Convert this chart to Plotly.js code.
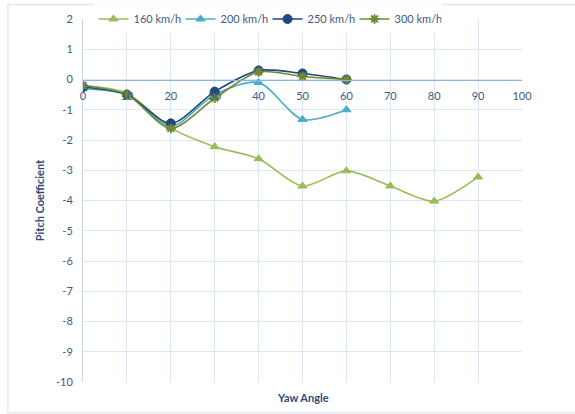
<!DOCTYPE html>
<html>
<head>
<meta charset="utf-8">
<script src="https://cdn.plot.ly/plotly-3.0.1.min.js"></script>
<style>html,body{margin:0;padding:0;background:#fff;}#chart{width:575px;height:414px;}</style>
</head>
<body>
<div id="chart"></div>
<script>
var yawAngle160 = [0, 10, 20, 30, 40, 50, 60, 70, 80, 90];
var pitch160 = [-0.2, -0.45, -1.6, -2.22, -2.62, -3.52, -3.02, -3.52, -4.02, -3.22];
var yawAngle = [0, 10, 20, 30, 40, 50, 60];
var pitch200 = [-0.3, -0.5, -1.55, -0.5, -0.1, -1.32, -1.0];
var pitch250 = [-0.25, -0.5, -1.45, -0.4, 0.3, 0.2, 0.0];
var pitch300 = [-0.2, -0.5, -1.62, -0.62, 0.25, 0.1, 0.0];
var seriesNames = ['160 km/h', '200 km/h', '250 km/h', '300 km/h'];
var xTickVals = [0, 10, 20, 30, 40, 50, 60, 70, 80, 90, 100];
var yTickVals = [2, 1, 0, -1, -2, -3, -4, -5, -6, -7, -8, -9, -10];
var yTickText = ['2', '1', '0', '-1', '-2', '-3', '-4', '-5', '-6', '-7', '-8', '-9', '-10'];

var font = 'Lato, "Open Sans", sans-serif';
function tr(x, y, name, color, sym, size, extra) {
  var m = {symbol: sym, size: size, color: color, line: {color: color, width: 1}};
  if (extra) m.line.width = extra;
  return {x: x, y: y, name: name, type: 'scatter', mode: 'lines+markers',
    line: {color: color, width: 1.6, shape: 'spline', smoothing: 0.8}, marker: m};
}
var data = [
  tr(yawAngle160, pitch160, seriesNames[0], '#9BBB59', 'triangle-up', 8),
  tr(yawAngle, pitch200, seriesNames[1], '#4BACC6', 'triangle-up', 8),
  tr(yawAngle, pitch250, seriesNames[2], '#1F497D', 'circle', 9),
  tr(yawAngle, pitch300, seriesNames[3], '#6F8A33', 'asterisk-open', 8, 2)
];
var layout = {
  width: 575, height: 414,
  margin: {l: 83, r: 53, t: 19, b: 32, autoexpand: false},
  paper_bgcolor: '#fff', plot_bgcolor: '#fff',
  font: {family: font, size: 11, color: '#3E5A86'},
  showlegend: true,
  legend: {orientation: 'h', x: 0.024, y: 1.04, xanchor: 'left', yanchor: 'top',
    bgcolor: 'rgba(255,255,255,1)', font: {size: 11, color: '#3E5A86'}, itemwidth: 30,
    entrywidth: 42, entrywidthmode: 'pixels', tracegroupgap: 0},
  xaxis: {range: [0, 100], tickvals: xTickVals, showgrid: true, gridcolor: '#DCE6F4', gridwidth: 1,
    zeroline: false, showline: true, linecolor: '#8DB3E2', linewidth: 1,
    anchor: 'free', position: 10/12, ticks: '', ticklabelstandoff: 6,
    tickfont: {size: 11, color: '#3E5A86'}, fixedrange: true},
  yaxis: {range: [-10, 2], tickvals: yTickVals, ticktext: yTickText, showgrid: true,
    gridcolor: '#DCE6F4', gridwidth: 1, zeroline: false, showline: true, linecolor: '#C6D6EC',
    ticks: '', ticklabelstandoff: 7, tickfont: {size: 11, color: '#3E5A86'},
    title: {text: '<b>Pitch Coefficient</b>', font: {size: 11, color: '#2C4A7A'}, standoff: 9}},
  annotations: [{text: '<b>Yaw Angle</b>', xref: 'paper', yref: 'paper', x: 0.5, y: -0.02,
    xanchor: 'center', yanchor: 'top', showarrow: false, font: {size: 11, color: '#2C4A7A'}}],
  shapes: [{type: 'rect', xref: 'paper', yref: 'paper', x0: -0.171, x1: 1.2, y0: -0.085, y1: 1.04,
    line: {color: '#E2E9F2', width: 1.5}, fillcolor: 'rgba(0,0,0,0)', layer: 'below'},
    {type: 'line', xref: 'paper', yref: 'y', x0: 0, x1: 1, y0: 0, y1: 0,
    line: {color: '#8DB3E2', width: 1}, layer: 'below'}]
};
Plotly.newPlot('chart', data, layout, {displayModeBar: false, staticPlot: true});
</script>
</body>
</html>
